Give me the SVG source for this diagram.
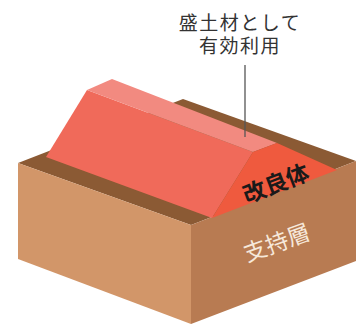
<svg xmlns="http://www.w3.org/2000/svg" width="358" height="326" viewBox="0 0 358 326">
  <style>
    .label { font-family: "Noto Sans CJK JP", "Noto Sans", sans-serif; }
    .note { font-family: "Liberation Sans", "Noto Sans CJK JP", sans-serif; font-size: 19px; letter-spacing: 1.5px; fill: #333333; }
    .mound-label { font-size: 23px; font-weight: bold; fill: #1a1a1a; }
    .ground-label { font-size: 23px; fill: #f6e8da; }
  </style>
  <rect width="358" height="326" fill="#ffffff"/>

  <!-- supporting ground block -->
  <g id="support-layer">
    <polygon points="18,163 183,99 356,161 191,225" fill="#8b5a34"/>
    <polygon points="18,163 191,225 191,324 18,259" fill="#d29669"/>
    <polygon points="191,225 356,161 356,261 191,324" fill="#b87b52"/>
    <text class="label ground-label" x="277" y="251" text-anchor="middle" transform="rotate(-20 277 243)">支持層</text>
  </g>

  <!-- improved soil mound -->
  <g id="improved-body">
    <polygon points="46,157 87,90 253,152 212,218" fill="#f06a5a"/>
    <polygon points="87,90 112,79 277,143 253,152" fill="#f28a80"/>
    <polygon points="212,218 253,152 277,143 337,170" fill="#ef5a3e"/>
    <text class="label mound-label" x="276" y="192" text-anchor="middle" transform="rotate(-21 276 184)">改良体</text>
  </g>

  <!-- callout -->
  <g id="callout">
    <text class="note" x="240" y="30" text-anchor="middle">盛土材として</text>
    <text class="note" x="240" y="53" text-anchor="middle">有効利用</text>
  </g>
  <g id="connectors">
    <line x1="245" y1="65" x2="245" y2="137" stroke="#555555" stroke-width="1.3"/>
  </g>
</svg>
